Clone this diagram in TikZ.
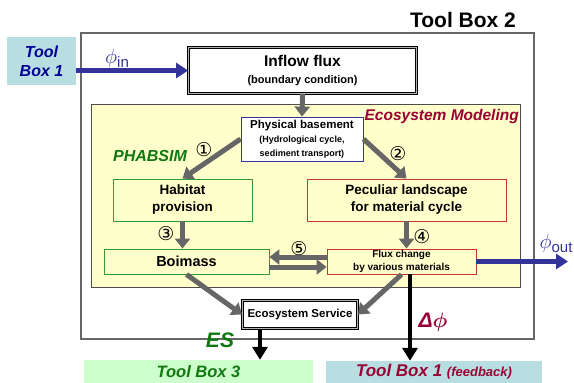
\documentclass[tikz,border=0pt]{standalone}
\usepackage{fontspec}
\setmainfont{Liberation Sans}
\newfontfamily\symfont{DejaVu Sans}
\usepackage{bm}
\usetikzlibrary{arrows.meta,calc}
\definecolor{tbblue}{HTML}{B8DEE2}
\definecolor{tbgreen}{HTML}{CCFFCC}
\definecolor{ecoyellow}{HTML}{FFFFCC}
\definecolor{navy}{HTML}{333399}
\definecolor{darkblue}{HTML}{000099}
\definecolor{wine}{HTML}{990033}
\definecolor{dgreen}{HTML}{117711}
\definecolor{bgreen}{HTML}{339933}
\definecolor{bred}{HTML}{CC3333}
\definecolor{arrgray}{HTML}{666666}
\newcommand\fsz[2]{\fontsize{#1}{#2}\selectfont}
\begin{document}
\begin{tikzpicture}[x=1pt,y=-1pt,
  box/.style={draw, rectangle, inner sep=0pt, align=center, font=\bfseries},
  dbox/.style={box, fill=white, draw=black, line width=1pt, double=gray!60, double distance=1pt},
  grayarr/.style={draw=arrgray, line width=5pt, -{Triangle[length=10pt,width=15pt]}},
  blackarr/.style={draw=black, line width=3.5pt, -{Triangle[length=13pt,width=15pt]}},
  bluearr/.style={draw=navy, line width=4.5pt, -{Triangle[length=12pt,width=15pt]}},
  circnum/.style={inner sep=0pt, font=\symfont\fsz{19}{19}},
  lbl/.style={inner sep=0pt, font=\bfseries\itshape}]
\useasboundingbox (0,0) rectangle (574,383);
\fill[white] (0,0) rectangle (574,383);

% outer tool box 2
\node[draw=gray!80!black, line width=1.2pt, minimum width=453pt, minimum height=306pt, inner sep=0pt] (tb2) at (307.5,186) {};
\node[inner sep=0pt, font=\bfseries\fsz{21}{21}] (tb2t) at (463,20) {Tool Box 2};

% ecosystem modeling box
\node[draw=black!70, line width=1pt, fill=ecoyellow, minimum width=429pt, minimum height=183pt, inner sep=0pt] (eco) at (305.5,195.5) {};
\node[lbl, text=wine, font=\bfseries\itshape\fsz{15.5}{15.5}, anchor=east] (ecot) at (519,116) {Ecosystem Modeling};

% tool box 1 (left)
\node[box, draw=none, fill=tbblue, minimum width=69pt, minimum height=48pt, text=darkblue, font=\bfseries\itshape\fsz{16}{19}] (tb1) at (41.5,61) {Tool\\Box 1};

% inflow flux
\node[dbox, minimum width=228pt, minimum height=46pt, font=\bfseries\fsz{15.5}{17}] (inflow) at (302.5,70.5) {Inflow flux\\{\fsz{11}{13}(boundary condition)}};

% physical basement
\node[box, draw=navy, line width=0.8pt, fill=white, minimum width=122pt, minimum height=44pt, font=\bfseries\fsz{11.5}{14}] (phys) at (302,139) {Physical basement\\{\fsz{9}{10}(Hydrological cycle,}\\{\fsz{9}{10}sediment transport)}};

% habitat
\node[box, draw=bgreen, line width=0.9pt, minimum width=139pt, minimum height=42pt, font=\bfseries\fsz{13.5}{17}] (hab) at (182.5,200) {Habitat\\provision};

% peculiar landscape
\node[box, draw=bred, line width=0.9pt, minimum width=199pt, minimum height=42pt, font=\bfseries\fsz{13.5}{17}] (pec) at (406.5,200) {Peculiar landscape\\for material cycle};

% biomass
\node[box, draw=bgreen, line width=0.9pt, minimum width=165pt, minimum height=25pt, font=\bfseries\fsz{14.5}{17}] (bio) at (186.5,261.5) {Boimass};

% flux change
\node[box, draw=bred, line width=0.9pt, minimum width=149pt, minimum height=25pt, font=\bfseries\fsz{10}{12.5}] (flux) at (401.5,261.5) {Flux change\\by various materials};

% ecosystem service
\node[dbox, minimum width=115pt, minimum height=28pt, font=\bfseries\fsz{11.5}{13}] (es) at (300,314.5) {Ecosystem Service};

% bottom tool boxes
\node[box, draw=none, fill=tbgreen, minimum width=229pt, minimum height=23pt, text=dgreen, font=\bfseries\itshape\fsz{16.5}{17}] (tb3) at (198.5,371.5) {Tool Box 3};
\node[box, draw=none, fill=tbblue, minimum width=216pt, minimum height=22pt, text=wine, font=\bfseries\itshape\fsz{17}{17}] (tb1f) at (434,372) {Tool Box 1 {\fsz{13}{13}(feedback)}};

% gray arrows
\draw[grayarr] (inflow.south) -- (phys.north);
\draw[grayarr] (phys.west) -- (hab.north);
\draw[grayarr] (phys.east) -- (pec.north);
\draw[grayarr] (hab.south) -- (hab.south |- bio.north);
\draw[grayarr] (pec.south) -- (pec.south |- flux.north);
\draw[grayarr] ([yshift=4.5pt]flux.west) -- ([yshift=4.5pt]bio.east);
\draw[grayarr] ([yshift=-5.5pt]bio.east) -- ([yshift=-5.5pt]flux.west);
\draw[grayarr] (bio.south) -- (es.west);
\draw[grayarr] (flux.south) -- (es.east);

% blue arrows
\draw[bluearr] (tb1.east |- inflow.west) -- (inflow.west);
\coordinate (outend) at (568,261.5);
\draw[bluearr] (flux.east) -- (outend);

% black arrows
\draw[blackarr] ([xshift=8.5pt]flux.south) -- ([xshift=8.5pt]flux.south |- tb1f.north);
\draw[blackarr] ([xshift=-40pt]es.south) -- ([xshift=-40pt]es.south |- tb3.north);

% labels
\node[inner sep=0pt, text=navy] (phin) at (117,58) {\fsz{20}{20}$\phi$\raisebox{-4pt}{\fsz{15}{15}in}};
\node[inner sep=0pt, text=navy] (phout) at (556,243) {\fsz{20}{20}$\phi$\raisebox{-4pt}{\fsz{15}{15}out}};
\node[lbl, text=dgreen, font=\bfseries\itshape\fsz{16}{16}] (phab) at (150,156) {PHABSIM};
\node[circnum] (n1) at (204,150) {①};
\node[circnum] (n2) at (398,154) {②};
\node[circnum] (n3) at (166,234) {③};
\node[circnum] (n4) at (422,237) {④};
\node[circnum] (n5) at (299,249) {⑤};
\node[inner sep=0pt, text=wine] (dphi) at (433,322) {\fsz{21}{21}\bfseries\itshape Δ$\bm{\phi}$};
\node[lbl, text=dgreen, font=\bfseries\itshape\fsz{21}{21}] (est) at (220,340) {ES};
\end{tikzpicture}
\end{document}
